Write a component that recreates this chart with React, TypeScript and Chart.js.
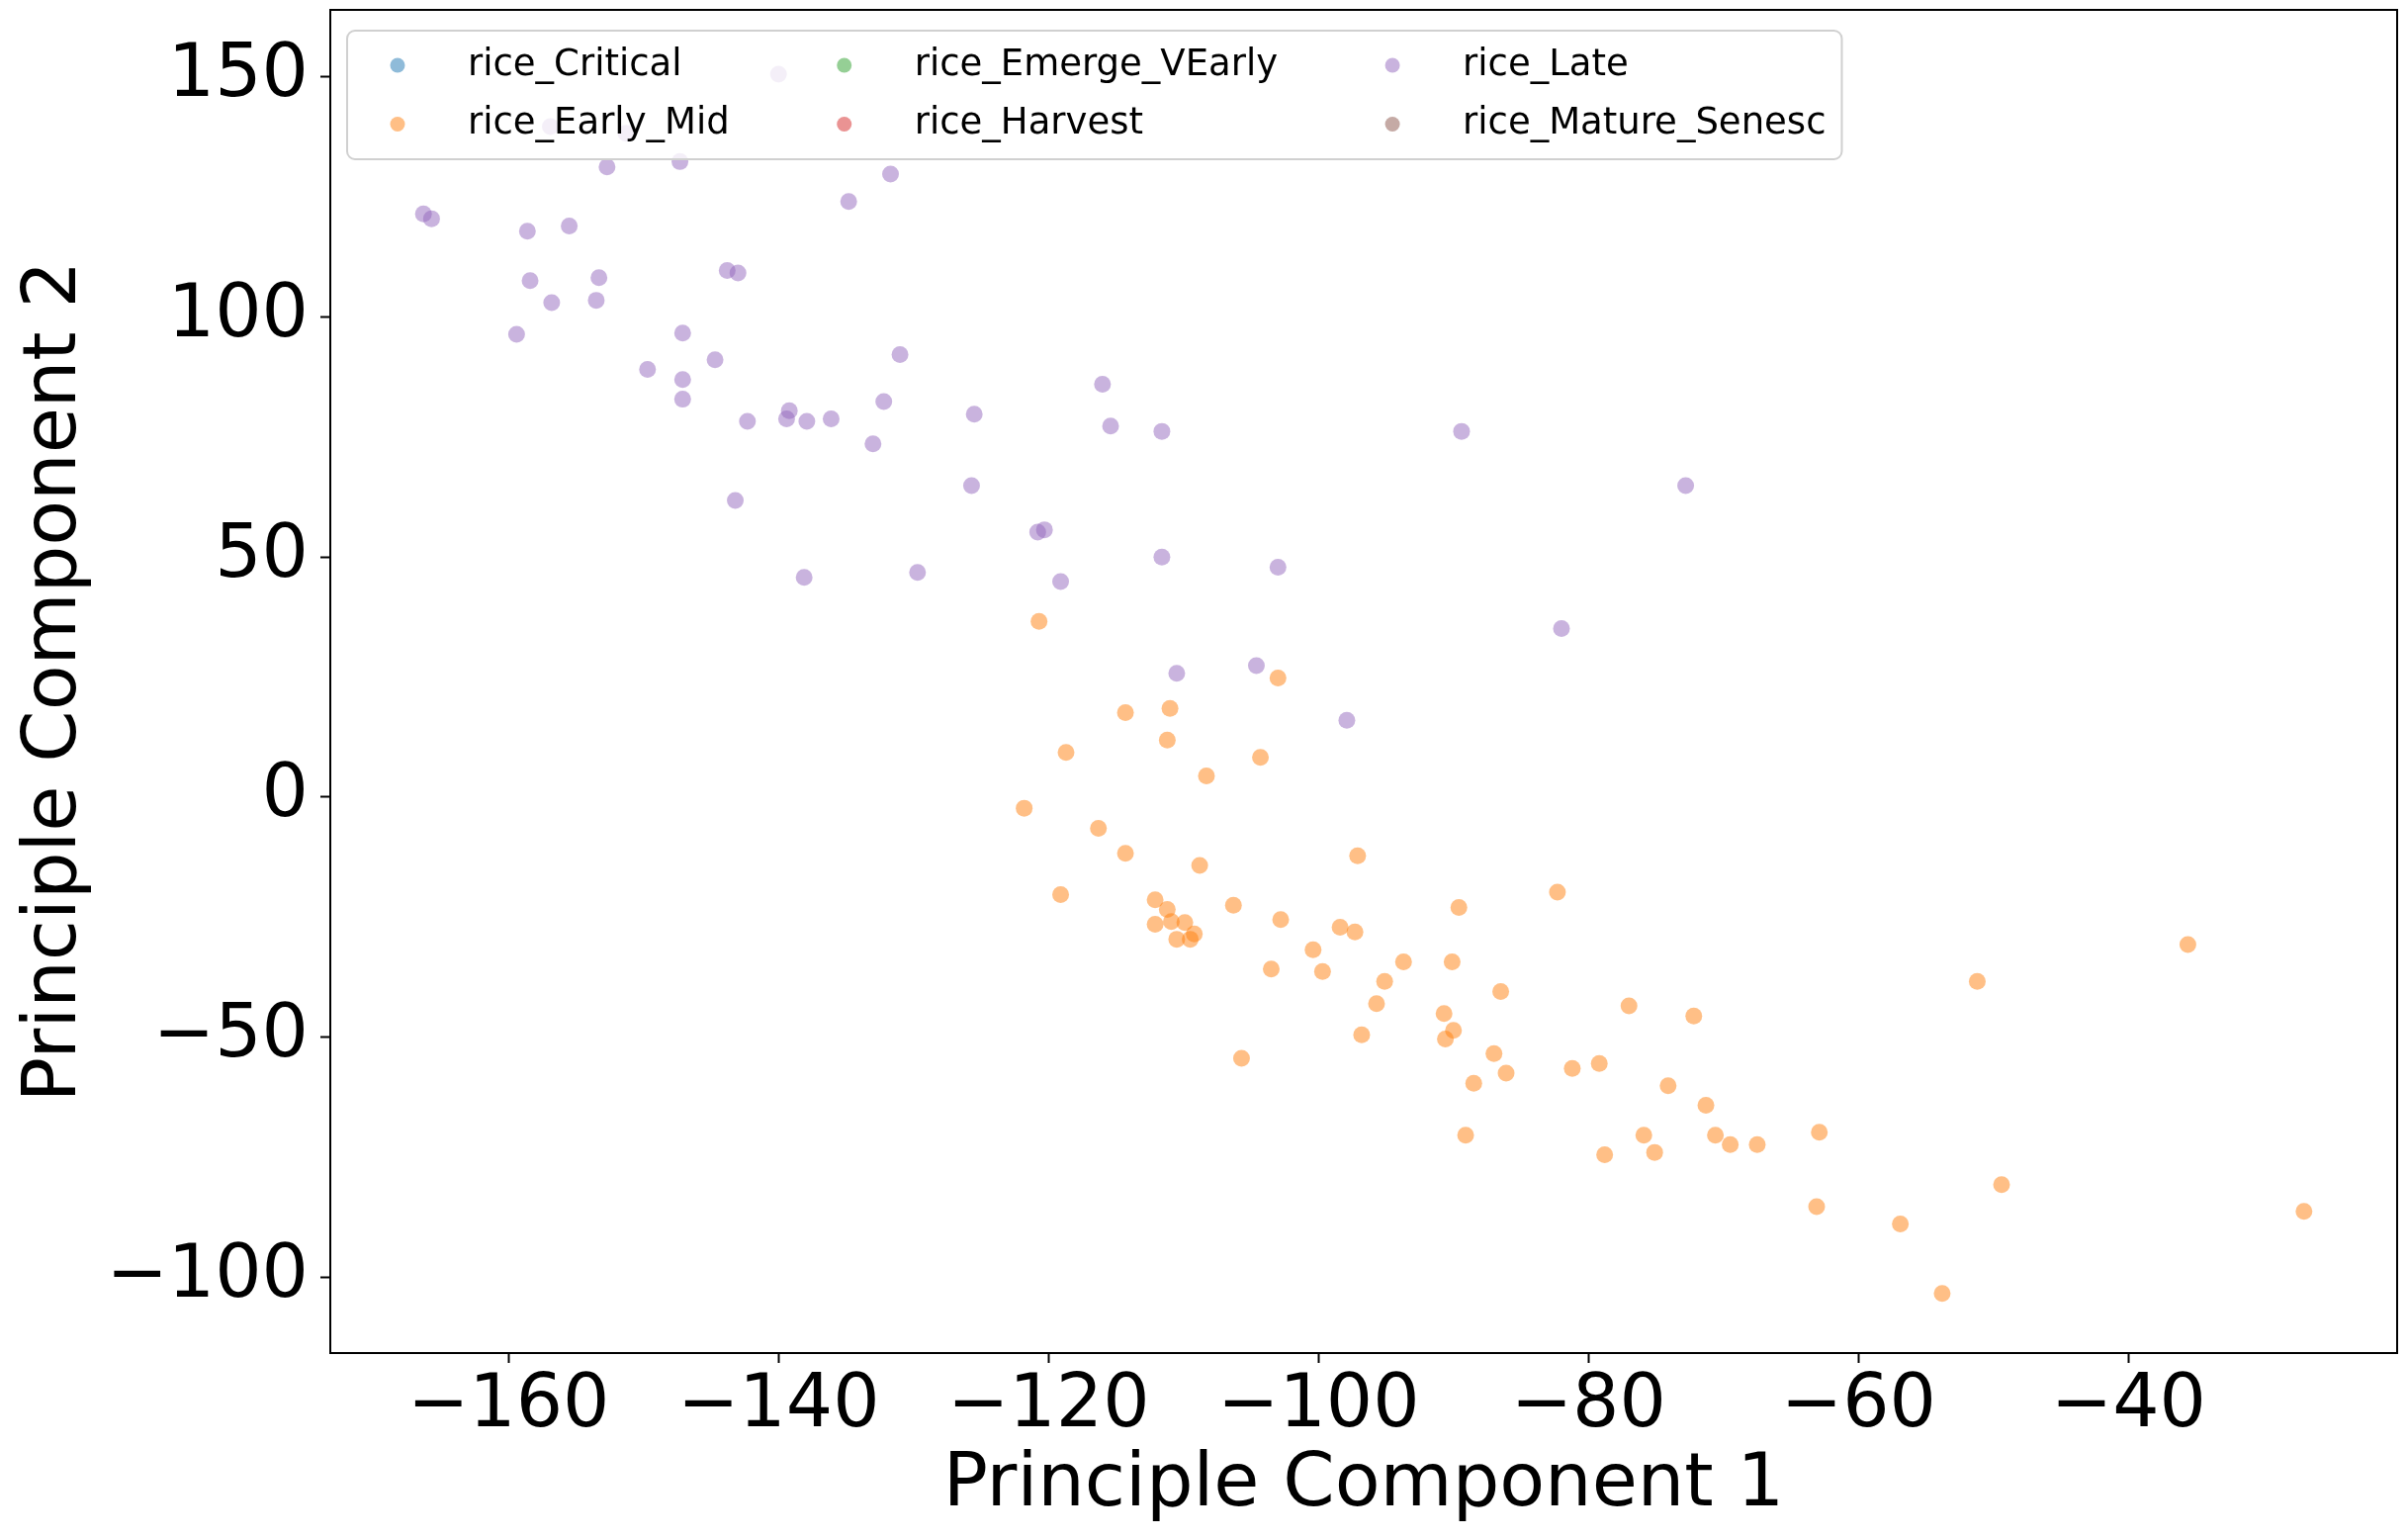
import { useEffect, useRef } from "react";
import { Chart, registerables } from "chart.js";

Chart.register(...registerables);

const FONT = "'DejaVu Sans', sans-serif";

// legend order is the order matplotlib used (column by column)
const seriesNames = [
  "rice_Critical",
  "rice_Early_Mid",
  "rice_Emerge_VEarly",
  "rice_Harvest",
  "rice_Late",
  "rice_Mature_Senesc",
];
const seriesColors = ["#1f77b4", "#ff7f0e", "#2ca02c", "#d62728", "#9467bd", "#8c564b"];

const xTicks = [-160, -140, -120, -100, -80, -60, -40];
const yTicks = [-100, -50, 0, 50, 100, 150];

// empty groups (only in the legend)
const criticalX: number[] = [];
const criticalY: number[] = [];
const emergeX: number[] = [];
const emergeY: number[] = [];
const harvestX: number[] = [];
const harvestY: number[] = [];
const matureX: number[] = [];
const matureY: number[] = [];

const earlyMidX = [
  -120.7, -103.0, -114.3, -111.0, -111.2, -118.7, -104.3, -108.3, -121.8, -116.3,
  -114.3, -108.8, -97.1, -119.1, -82.3, -112.1, -111.2, -106.3, -89.6, -112.1,
  -110.9, -109.9, -109.2, -110.5, -109.5, -102.8, -98.4, -97.3, -100.4, -103.5,
  -99.7, -93.7, -90.1, -95.1, -86.5, -35.6, -51.2, -95.7, -90.7, -77.0,
  -72.2, -90.0, -90.6, -96.8, -105.7, -87.0, -86.1, -88.5, -81.2, -79.2,
  -74.1, -71.3, -89.1, -75.9, -70.6, -69.5, -67.5, -62.9, -78.8, -75.1,
  -49.4, -63.1, -56.9, -27.0, -53.8,
];
const earlyMidY = [
  36.6, 24.8, 17.6, 18.5, 11.9, 9.3, 8.3, 4.4, -2.3, -6.5,
  -11.7, -14.2, -12.2, -20.3, -19.8, -21.4, -23.4, -22.5, -23.0, -26.5,
  -25.9, -26.1, -28.5, -29.6, -29.6, -25.5, -27.1, -28.1, -31.8, -35.8,
  -36.3, -34.3, -34.3, -38.4, -40.5, -30.7, -38.4, -43.0, -45.1, -43.5,
  -45.6, -48.6, -50.4, -49.5, -54.4, -53.4, -57.5, -59.6, -56.5, -55.5,
  -60.1, -64.2, -70.4, -70.4, -70.4, -72.4, -72.4, -69.8, -74.5, -74.0,
  -80.7, -85.3, -88.9, -86.3, -103.4,
];

const lateX = [
  -140.0, -156.9, -151.3, -147.3, -152.7, -131.7, -134.8, -166.3, -165.7, -158.6,
  -155.5, -143.8, -143.0, -158.4, -153.3, -156.8, -153.5, -159.4, -147.1, -144.7,
  -149.7, -147.1, -147.1, -131.0, -132.2, -142.3, -139.2, -139.4, -137.9, -136.1,
  -133.0, -125.5, -125.7, -143.2, -138.1, -129.7, -116.0, -115.4, -111.6, -89.4,
  -72.8, -120.8, -120.3, -111.6, -119.1, -103.0, -82.0, -110.5, -104.6, -97.9,
];
const lateY = [
  150.6, 139.7, 138.3, 132.4, 131.3, 129.8, 124.1, 121.5, 120.5, 117.9,
  119.0, 109.7, 109.2, 107.6, 108.2, 103.0, 103.5, 96.4, 96.7, 91.1,
  89.1, 87.0, 82.9, 92.2, 82.4, 78.3, 80.5, 78.8, 78.3, 78.8,
  73.6, 79.8, 64.9, 61.8, 45.8, 46.8, 86.0, 77.3, 76.2, 76.2,
  64.9, 55.2, 55.7, 50.0, 44.9, 47.9, 35.1, 25.8, 27.4, 16.0,
];

const seriesX = [criticalX, earlyMidX, emergeX, harvestX, lateX, matureX];
const seriesY = [criticalY, earlyMidY, emergeY, harvestY, lateY, matureY];

const fade = (hex: string, a: number) => {
  const n = parseInt(hex.slice(1), 16);
  return `rgba(${(n >> 16) & 255}, ${(n >> 8) & 255}, ${n & 255}, ${a})`;
};

const fmt = (v: number | string) => {
  const n = Number(v);
  return n < 0 ? "\u2212" + Math.abs(n) : String(n);
};

// black box round the plot + matplotlib style legend in the upper left
const frameLegend = {
  id: "frameLegend",
  afterDatasetsDraw(chart: Chart) {
    const { ctx, chartArea: a } = chart;
    ctx.save();
    ctx.strokeStyle = "#000";
    ctx.lineWidth = 2;
    ctx.strokeRect(a.left, a.top, a.right - a.left, a.bottom - a.top);

    ctx.font = `37px ${FONT}`;
    const boxL = a.left + 17;
    const boxT = a.top + 21;
    const rows = [35, 94.5];
    const cols: { x: number; idx: number[] }[] = [];
    let x = boxL + 51;
    for (let c = 0; c < 3; c++) {
      const idx = [c * 2, c * 2 + 1];
      const w = Math.max(...idx.map((i) => ctx.measureText(seriesNames[i]).width));
      cols.push({ x, idx });
      x += 71 + w + 116;
    }
    const boxR = x - 116 + 16;
    const boxB = boxT + 130;

    ctx.beginPath();
    ctx.roundRect(boxL, boxT, boxR - boxL, boxB - boxT, 8);
    ctx.fillStyle = "rgba(255,255,255,0.8)";
    ctx.fill();
    ctx.strokeStyle = "#d0d0d0";
    ctx.lineWidth = 2;
    ctx.stroke();

    ctx.textBaseline = "middle";
    ctx.textAlign = "left";
    cols.forEach((col) => {
      col.idx.forEach((i, r) => {
        const y = boxT + rows[r];
        ctx.beginPath();
        ctx.arc(col.x, y, 7.5, 0, Math.PI * 2);
        ctx.fillStyle = fade(seriesColors[i], 0.5);
        ctx.fill();
        ctx.fillStyle = "#000";
        ctx.fillText(seriesNames[i], col.x + 71, y);
      });
    });
    ctx.restore();
  },
};

const App = () => {
  const chartRef = useRef<HTMLCanvasElement | null>(null);

  useEffect(() => {
    if (!chartRef.current) return;
    const chartInstance = new Chart(chartRef.current, {
      type: "scatter",
      data: {
        datasets: seriesNames.map((name, i) => ({
          label: name,
          data: seriesX[i].map((x, j) => ({ x, y: seriesY[i][j] })),
          backgroundColor: fade(seriesColors[i], 0.5),
          borderWidth: 0,
          pointRadius: 8.5,
          pointHoverRadius: 8.5,
          order: seriesNames.length - i,
        })),
      },
      options: {
        responsive: false,
        animation: false,
        devicePixelRatio: 1,
        layout: { padding: { top: 10, right: 11, left: 0, bottom: 0 } },
        plugins: {
          legend: { display: false },
          tooltip: { enabled: false },
        },
        scales: {
          x: {
            type: "linear",
            position: "bottom",
            min: -173.2,
            max: -20.1,
            afterBuildTicks: (s: any) => {
              s.ticks = xTicks.map((v) => ({ value: v }));
            },
            afterFit: (s: any) => {
              s.height = 187;
              s.paddingLeft = 0;
              s.paddingRight = 0;
            },
            ticks: {
              font: { family: FONT, size: 74.5 },
              color: "#000",
              padding: 0,
              maxRotation: 0,
              autoSkip: false,
              callback: fmt,
            },
            grid: {
              drawOnChartArea: false,
              drawTicks: true,
              tickLength: 10,
              tickWidth: 2,
              tickColor: "#000",
            },
            border: { display: true, color: "#000", width: 2 },
            title: {
              display: true,
              text: "Principle Component 1",
              font: { family: FONT, size: 75 },
              color: "#000",
              padding: { top: 0, bottom: 7 },
            },
          },
          y: {
            type: "linear",
            min: -115.8,
            max: 164.0,
            afterBuildTicks: (s: any) => {
              s.ticks = yTicks.map((v) => ({ value: v }));
            },
            afterFit: (s: any) => {
              s.width = 334;
              s.paddingTop = 0;
              s.paddingBottom = 0;
            },
            ticks: {
              font: { family: FONT, size: 74.5 },
              color: "#000",
              padding: 12,
              autoSkip: false,
              callback: fmt,
            },
            grid: {
              drawOnChartArea: false,
              drawTicks: true,
              tickLength: 10,
              tickWidth: 2,
              tickColor: "#000",
            },
            border: { display: true, color: "#000", width: 2 },
            title: {
              display: true,
              text: "Principle Component 2",
              font: { family: FONT, size: 75 },
              color: "#000",
              padding: { top: 12, bottom: 0 },
            },
          },
        },
      },
      plugins: [frameLegend],
    });

    return () => {
      chartInstance.destroy();
    };
  }, []);

  return (
    <div style={{ position: "absolute", left: 0, top: 0, width: 2435, height: 1555, background: "#fff" }}>
      <canvas ref={chartRef} width={2435} height={1555} style={{ width: 2435, height: 1555, display: "block" }} />
    </div>
  );
};

export default App;
